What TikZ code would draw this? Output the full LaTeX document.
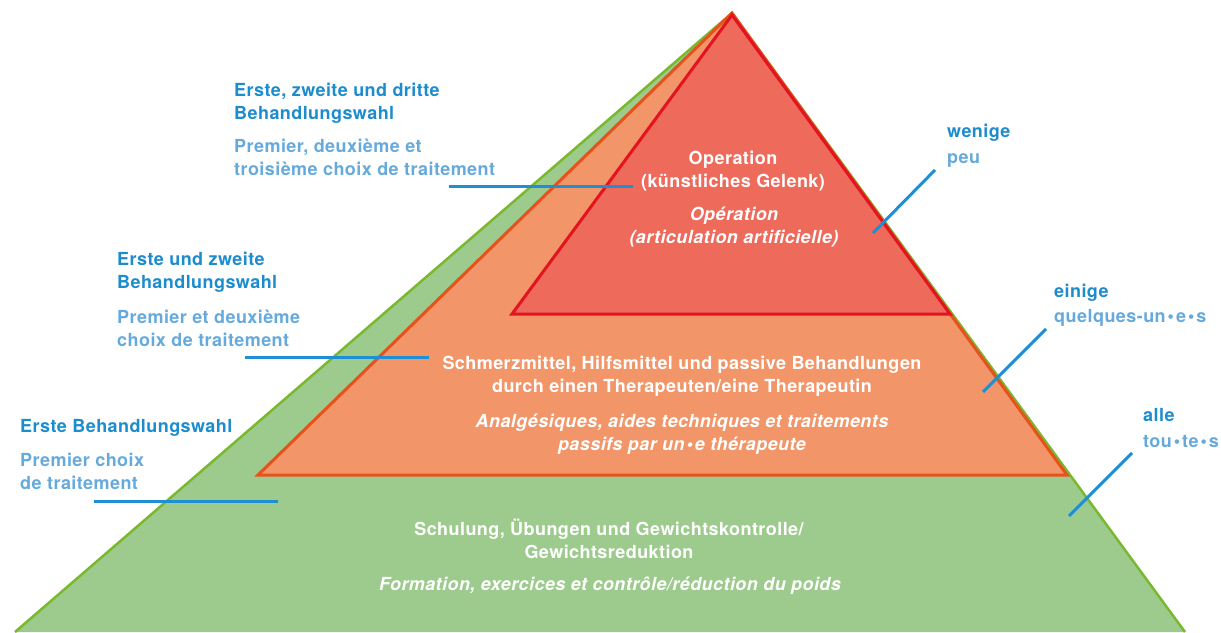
\documentclass[tikz,border=0pt]{standalone}
\usepackage{fontspec}
\setmainfont{TeX Gyre Heros}[LetterSpace=2.4]
\definecolor{gfill}{HTML}{9DCB8D}
\definecolor{gline}{HTML}{7AB82E}
\definecolor{ofill}{HTML}{F29568}
\definecolor{oline}{HTML}{E6521C}
\definecolor{rfill}{HTML}{EE6A5B}
\definecolor{rline}{HTML}{E3141F}
\definecolor{dblue}{HTML}{1D8CCC}
\definecolor{lblue}{HTML}{66AADC}
\definecolor{cblue}{HTML}{1F8ED2}
\newcommand{\gdot}{\kern2pt•\kern2pt}
\begin{document}
\begin{tikzpicture}[x=1pt,y=-1pt,
  lab/.style={inner sep=0pt, align=left, anchor=base west,
    font=\fontsize{18}{23}\selectfont\bfseries},
  de/.style={lab, text=dblue},
  fr/.style={lab, text=lblue},
  inner/.style={inner sep=0pt, align=center, anchor=base, text=white,
    font=\fontsize{18}{23}\selectfont\bfseries},
  inneri/.style={inner, font=\fontsize{18}{23}\selectfont\bfseries\itshape},
  conn/.style={draw=cblue, line width=3pt}]
\useasboundingbox (0,0) rectangle (1221,632);
% pyramid layers
\coordinate (apex) at (732,13);
\coordinate (gl) at (15,632);
\coordinate (gr) at (1185,632);
\fill[gfill] (apex) -- (gl) -- (gr) -- cycle;
\draw[gline, line width=2.5pt] (gl) -- (apex) -- (gr);
\coordinate (ol) at (258,475);
\coordinate (or) at (1067,475);
\filldraw[fill=ofill, draw=oline, line width=3pt] (apex) -- (ol) -- (or) -- cycle;
\coordinate (rapex) at (732,15);
\coordinate (rl) at (512,314);
\coordinate (rr) at (950,314);
\filldraw[fill=rfill, draw=rline, line width=3pt] (rapex) -- (rl) -- (rr) -- cycle;
% inner texts (base = baseline of the last line)
\node[inner] (c1de) at (733,187) {Operation\\(künstliches Gelenk)};
\node[inneri] (c1fr) at (734,243) {Opération\\(articulation artificielle)};
\node[inner] (c2de) at (682,392) {Schmerzmittel, Hilfsmittel und passive Behandlungen\\durch einen Therapeuten/eine Therapeutin};
\node[inneri] (c2fr) at (682,450) {Analgésiques, aides techniques et traitements\\passifs par un\gdot e thérapeute};
\node[inner] (c3de) at (609,558) {Schulung, Übungen und Gewichtskontrolle/\\Gewichtsreduktion};
\node[inneri] (c3fr) at (610,590) {Formation, exercices et contrôle/réduction du poids};
% left labels
\node[de] (l1de) at (234,119) {Erste, zweite und dritte\\Behandlungswahl};
\node[fr] (l1fr) at (234,175) {Premier, deuxième et\\troisième choix de traitement};
\node[de] (l2de) at (117,288) {Erste und zweite\\Behandlungswahl};
\node[fr] (l2fr) at (117,346) {Premier et deuxième\\choix de traitement};
\node[de] (l3de) at (20,432) {Erste Behandlungswahl};
\node[fr] (l3fr) at (20,489) {Premier choix\\de traitement};
% right labels
\node[de] (r1de) at (947,137) {wenige};
\node[fr] (r1fr) at (947,163) {peu};
\node[de] (r2de) at (1054,297) {einige};
\node[fr] (r2fr) at (1054,322) {quelques-un\gdot e\gdot s};
\node[de] (r3de) at (1143,421) {alle};
\node[fr] (r3fr) at (1143,447) {tou\gdot te\gdot s};
% connectors
\coordinate (a1) at (449,186); \coordinate (b1) at (633,186);
\coordinate (a2) at (245,357); \coordinate (b2) at (429,357);
\coordinate (a3) at (94,501);  \coordinate (b3) at (278,501);
\coordinate (p1) at (935,170); \coordinate (q1) at (873,233);
\coordinate (p2) at (1046,329); \coordinate (q2) at (983,392);
\coordinate (p3) at (1132,453); \coordinate (q3) at (1069,516);
\draw[conn] (a1) -- (b1);
\draw[conn] (a2) -- (b2);
\draw[conn] (a3) -- (b3);
\draw[conn] (p1) -- (q1);
\draw[conn] (p2) -- (q2);
\draw[conn] (p3) -- (q3);
\end{tikzpicture}
\end{document}
